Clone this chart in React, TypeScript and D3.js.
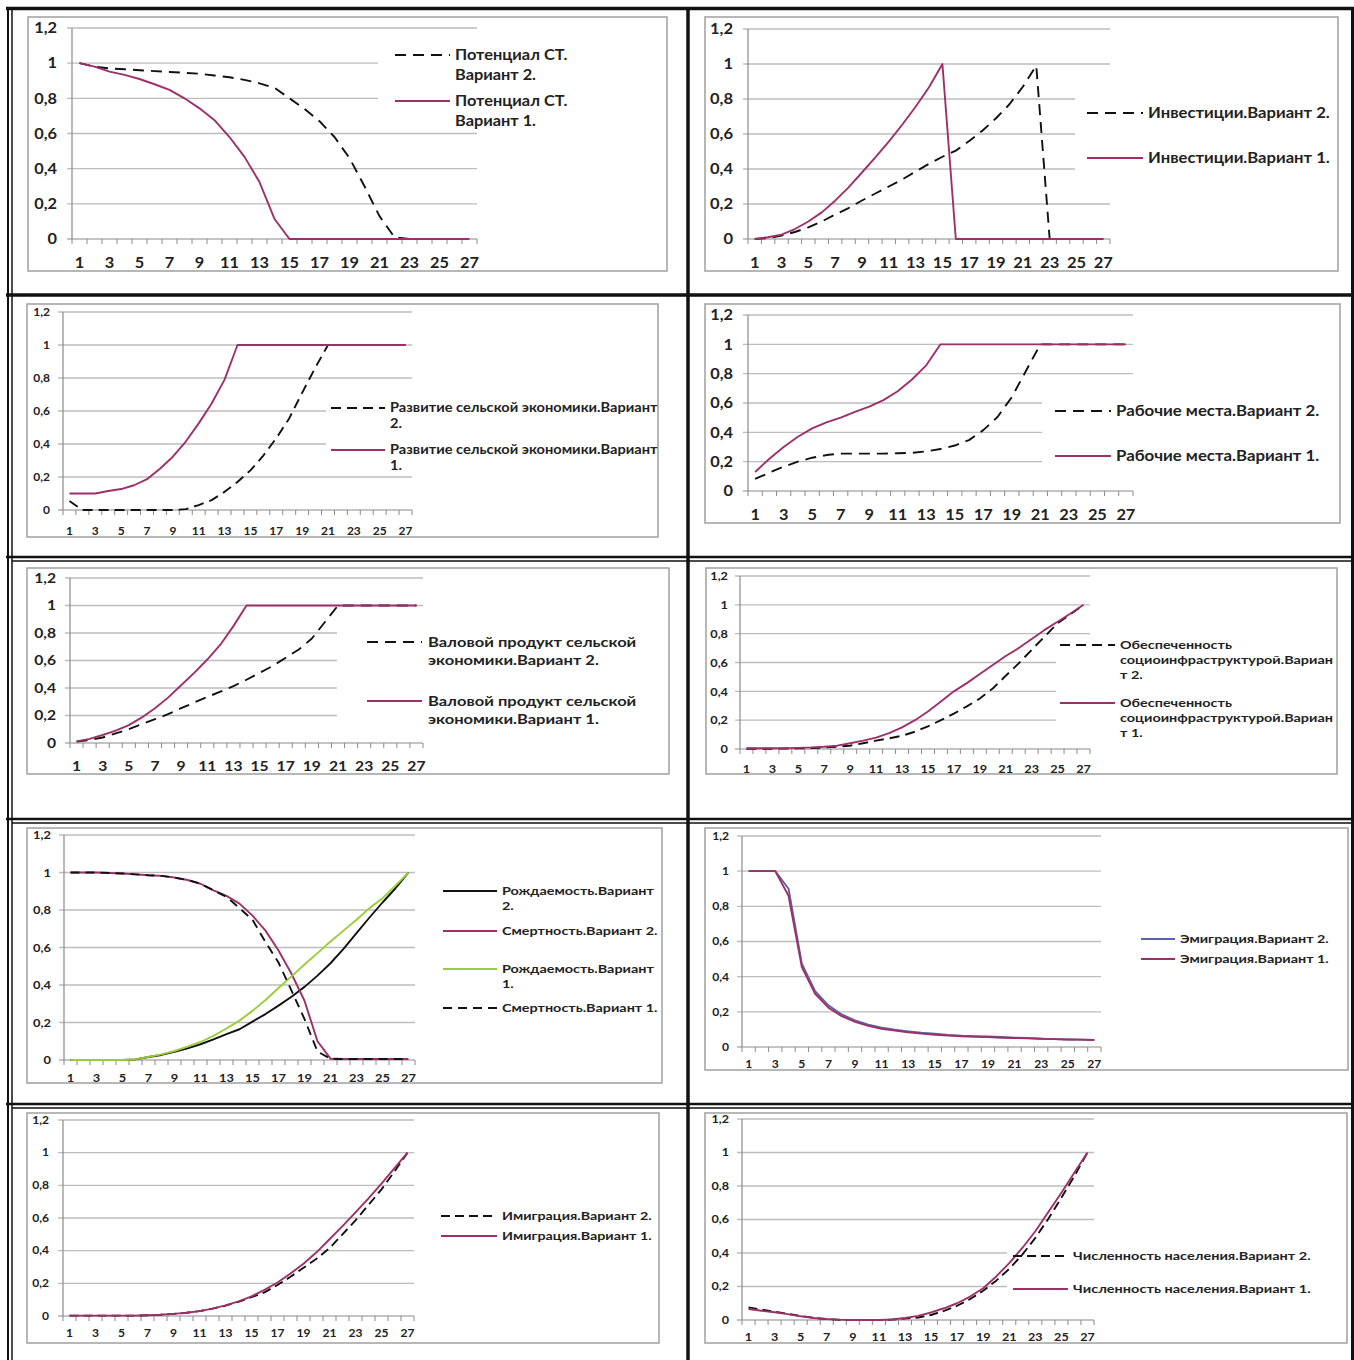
import * as d3 from "d3";

// Years (categories) 1..27 and the labelled ones on the x axis.
const CATS = [1, 2, 3, 4, 5, 6, 7, 8, 9, 10, 11, 12, 13, 14, 15, 16, 17, 18, 19, 20, 21, 22, 23, 24, 25, 26, 27];
const X_LABELS = [1, 3, 5, 7, 9, 11, 13, 15, 17, 19, 21, 23, 25, 27];
const Y_TICKS = [0, 0.2, 0.4, 0.6, 0.8, 1, 1.2];

// Потенциал СТ.
const POT_V2 = [1, 0.98, 0.97, 0.965, 0.96, 0.955, 0.95, 0.945, 0.94, 0.93, 0.92, 0.905, 0.885, 0.86, 0.8, 0.74, 0.67, 0.58, 0.46, 0.3, 0.13, 0.01, 0, 0, 0, 0, 0];
const POT_V1 = [1, 0.98, 0.952, 0.933, 0.91, 0.88, 0.848, 0.8, 0.743, 0.676, 0.58, 0.467, 0.324, 0.114, 0, 0, 0, 0, 0, 0, 0, 0, 0, 0, 0, 0, 0];
// Инвестиции
const INV_V2 = [0, 0.005, 0.02, 0.04, 0.067, 0.1, 0.14, 0.177, 0.22, 0.26, 0.3, 0.34, 0.385, 0.43, 0.47, 0.505, 0.56, 0.62, 0.69, 0.77, 0.87, 0.99, 0, 0, 0, 0, 0];
const INV_V1 = [0, 0.01, 0.025, 0.057, 0.1, 0.152, 0.219, 0.295, 0.38, 0.467, 0.556, 0.653, 0.756, 0.867, 1, 0, 0, 0, 0, 0, 0, 0, 0, 0, 0, 0, 0];
// Развитие сельской экономики
const RSE_V2 = [0.055, 0, 0, 0, 0, 0, 0, 0, 0, 0.005, 0.03, 0.06, 0.11, 0.17, 0.24, 0.33, 0.435, 0.555, 0.71, 0.86, 1, 1, 1, 1, 1, 1, 1];
const RSE_V1 = [0.1, 0.1, 0.1, 0.115, 0.127, 0.15, 0.187, 0.25, 0.323, 0.415, 0.525, 0.645, 0.79, 1, 1, 1, 1, 1, 1, 1, 1, 1, 1, 1, 1, 1, 1];
// Рабочие места
const JOB_V2 = [0.082, 0.125, 0.166, 0.2, 0.227, 0.245, 0.255, 0.255, 0.255, 0.255, 0.257, 0.26, 0.27, 0.286, 0.31, 0.347, 0.415, 0.505, 0.64, 0.82, 1, 1, 1, 1, 1, 1, 1];
const JOB_V1 = [0.13, 0.22, 0.3, 0.37, 0.427, 0.468, 0.5, 0.54, 0.575, 0.62, 0.68, 0.76, 0.857, 1, 1, 1, 1, 1, 1, 1, 1, 1, 1, 1, 1, 1, 1];
// Валовой продукт сельской экономики
const GDP_V2 = [0.01, 0.022, 0.04, 0.07, 0.1, 0.137, 0.173, 0.21, 0.253, 0.294, 0.335, 0.373, 0.414, 0.46, 0.51, 0.56, 0.62, 0.68, 0.76, 0.88, 1, 1, 1, 1, 1, 1, 1];
const GDP_V1 = [0.012, 0.03, 0.058, 0.09, 0.13, 0.186, 0.253, 0.33, 0.42, 0.51, 0.607, 0.715, 0.85, 1, 1, 1, 1, 1, 1, 1, 1, 1, 1, 1, 1, 1, 1];
// Обеспеченность социоинфраструктурой
const SOC_V2 = [0.002, 0.002, 0.002, 0.003, 0.004, 0.006, 0.01, 0.016, 0.023, 0.04, 0.058, 0.074, 0.092, 0.12, 0.157, 0.2, 0.245, 0.296, 0.35, 0.42, 0.508, 0.594, 0.688, 0.78, 0.873, 0.935, 1];
const SOC_V1 = [0.005, 0.005, 0.005, 0.006, 0.008, 0.011, 0.016, 0.023, 0.04, 0.058, 0.079, 0.11, 0.15, 0.2, 0.26, 0.33, 0.4, 0.457, 0.52, 0.583, 0.645, 0.7, 0.763, 0.826, 0.883, 0.94, 1];
// Рождаемость / Смертность
const BIRTH_V2 = [0, 0, 0, 0, 0, 0.003, 0.016, 0.027, 0.043, 0.062, 0.084, 0.11, 0.138, 0.164, 0.205, 0.245, 0.29, 0.337, 0.39, 0.45, 0.516, 0.593, 0.677, 0.76, 0.84, 0.916, 1];
const DEATH_V2 = [1, 1, 1, 0.997, 0.995, 0.99, 0.985, 0.982, 0.973, 0.96, 0.94, 0.905, 0.875, 0.834, 0.77, 0.69, 0.584, 0.46, 0.316, 0.1, 0.007, 0.005, 0.005, 0.005, 0.005, 0.005, 0.005];
const BIRTH_V1 = [0, 0, 0, 0, 0, 0.003, 0.017, 0.03, 0.048, 0.071, 0.096, 0.129, 0.168, 0.21, 0.262, 0.32, 0.384, 0.446, 0.509, 0.57, 0.632, 0.69, 0.748, 0.81, 0.863, 0.93, 1];
const DEATH_V1 = [1, 1, 1, 0.997, 0.995, 0.99, 0.985, 0.982, 0.973, 0.96, 0.94, 0.905, 0.87, 0.81, 0.748, 0.629, 0.52, 0.37, 0.218, 0.045, 0.007, 0.005, 0.005, 0.005, 0.005, 0.005, 0.005];
// Эмиграция
const EMI_V2 = [1, 1, 1, 0.9, 0.474, 0.318, 0.237, 0.185, 0.151, 0.127, 0.11, 0.098, 0.089, 0.081, 0.076, 0.068, 0.064, 0.062, 0.06, 0.057, 0.053, 0.051, 0.047, 0.045, 0.043, 0.042, 0.04];
const EMI_V1 = [1, 1, 1, 0.86, 0.455, 0.303, 0.224, 0.175, 0.143, 0.12, 0.104, 0.093, 0.084, 0.076, 0.07, 0.065, 0.061, 0.058, 0.056, 0.053, 0.051, 0.049, 0.047, 0.045, 0.043, 0.042, 0.04];
// Имиграция
const IMM_V2 = [0.002, 0.002, 0.002, 0.002, 0.002, 0.002, 0.005, 0.008, 0.013, 0.02, 0.03, 0.045, 0.063, 0.087, 0.115, 0.145, 0.19, 0.24, 0.295, 0.35, 0.415, 0.5, 0.585, 0.68, 0.775, 0.885, 1];
const IMM_V1 = [0.002, 0.002, 0.002, 0.002, 0.002, 0.002, 0.005, 0.008, 0.013, 0.02, 0.03, 0.045, 0.065, 0.09, 0.12, 0.16, 0.205, 0.26, 0.32, 0.39, 0.47, 0.55, 0.635, 0.72, 0.81, 0.905, 1];
// Численность населения
const POP_V2 = [0.075, 0.062, 0.05, 0.037, 0.024, 0.013, 0.005, 0.001, 0, 0, 0, 0.002, 0.008, 0.015, 0.03, 0.055, 0.085, 0.125, 0.175, 0.235, 0.305, 0.39, 0.49, 0.605, 0.73, 0.86, 1];
const POP_V1 = [0.066, 0.055, 0.046, 0.035, 0.022, 0.012, 0.006, 0.002, 0, 0, 0, 0.003, 0.012, 0.025, 0.045, 0.07, 0.1, 0.14, 0.19, 0.26, 0.34, 0.43, 0.53, 0.645, 0.76, 0.88, 1];

const FONT = "Lato, 'Open Sans', sans-serif";
const INK = "#222";
const BLACK = "#111";
const PURPLE = "#9E3068";
const GREEN = "#9ACD3A";
const BLUE = "#5A62A8";

type Series = { values: number[]; color: string; dashed?: boolean; label: string[] };
type PanelSpec = {
  box: [number, number, number, number];
  axis: [number, number];
  y0: number;
  y12: number;
  xLabelY: number;
  yLabelX: number;
  fs: number;
  sx: number;
  dash: string;
  legend: {
    x0: number;
    x1: number;
    tx: number;
    ys: number[];
    lh: number;
    fs: number;
    sx: number;
    mask?: [number, number, number, number];
  };
  series: Series[];
};

const PANELS: PanelSpec[] = [
  {
    box: [28, 17, 667, 271], axis: [72, 477], y0: 239, y12: 28, xLabelY: 263, yLabelX: 57, fs: 15, sx: 1.09, dash: "11,7",
    legend: { x0: 395, x1: 450, tx: 455, ys: [55, 101], lh: 20, fs: 15, sx: 1.09, mask: [378, 42, 220, 86] },
    series: [
      { values: POT_V2, color: BLACK, dashed: true, label: ["Потенциал СТ.", "Вариант 2."] },
      { values: POT_V1, color: PURPLE, label: ["Потенциал СТ.", "Вариант 1."] },
    ],
  },
  {
    box: [705, 17, 1338, 271], axis: [748, 1110], y0: 239, y12: 29, xLabelY: 263, yLabelX: 733, fs: 15, sx: 1.1, dash: "11,7",
    legend: { x0: 1087, x1: 1143, tx: 1148, ys: [113, 158], lh: 20, fs: 15, sx: 1.11, mask: [1075, 86, 260, 90] },
    series: [
      { values: INV_V2, color: BLACK, dashed: true, label: ["Инвестиции.Вариант 2."] },
      { values: INV_V1, color: PURPLE, label: ["Инвестиции.Вариант 1."] },
    ],
  },
  {
    box: [27, 304, 658, 537], axis: [63, 412], y0: 510, y12: 312, xLabelY: 531, yLabelX: 50, fs: 12, sx: 1.0, dash: "10,6",
    legend: { x0: 331, x1: 385, tx: 390, ys: [408, 450], lh: 16, fs: 12.5, sx: 1.17, mask: [326, 396, 280, 78] },
    series: [
      { values: RSE_V2, color: BLACK, dashed: true, label: ["Развитие сельской экономики.Вариант", "2."] },
      { values: RSE_V1, color: PURPLE, label: ["Развитие сельской экономики.Вариант", "1."] },
    ],
  },
  {
    box: [705, 304, 1340, 523], axis: [748, 1133], y0: 491, y12: 315, xLabelY: 515, yLabelX: 733, fs: 15, sx: 1.09, dash: "11,7",
    legend: { x0: 1055, x1: 1111, tx: 1116, ys: [411, 456], lh: 20, fs: 15, sx: 1.12, mask: [1042, 396, 280, 72] },
    series: [
      { values: JOB_V2, color: BLACK, dashed: true, label: ["Рабочие места.Вариант 2."] },
      { values: JOB_V1, color: PURPLE, label: ["Рабочие места.Вариант 1."] },
    ],
  },
  {
    box: [27, 568, 669, 774], axis: [70, 423], y0: 743, y12: 578, xLabelY: 766, yLabelX: 56, fs: 14, sx: 1.12, dash: "11,7",
    legend: { x0: 367, x1: 422, tx: 428, ys: [642, 701], lh: 18, fs: 14, sx: 1.18, mask: [337, 620, 300, 110] },
    series: [
      { values: GDP_V2, color: BLACK, dashed: true, label: ["Валовой продукт сельской", "экономики.Вариант 2."] },
      { values: GDP_V1, color: PURPLE, label: ["Валовой продукт сельской", "экономики.Вариант 1."] },
    ],
  },
  {
    box: [706, 568, 1337, 774], axis: [740, 1090], y0: 749, y12: 576, xLabelY: 769, yLabelX: 728, fs: 12, sx: 1.06, dash: "10,6",
    legend: { x0: 1060, x1: 1115, tx: 1120, ys: [645, 703], lh: 15, fs: 12, sx: 1.2, mask: [1056, 637, 280, 100] },
    series: [
      { values: SOC_V2, color: BLACK, dashed: true, label: ["Обеспеченность", "социоинфраструктурой.Вариан", "т 2."] },
      { values: SOC_V1, color: PURPLE, label: ["Обеспеченность", "социоинфраструктурой.Вариан", "т 1."] },
    ],
  },
  {
    box: [27, 828, 662, 1083], axis: [64, 415], y0: 1060, y12: 835, xLabelY: 1078, yLabelX: 51, fs: 11.5, sx: 1.12, dash: "9,6",
    legend: { x0: 443, x1: 497, tx: 502, ys: [891, 931, 969, 1008], lh: 15, fs: 12, sx: 1.2 },
    series: [
      { values: BIRTH_V2, color: BLACK, label: ["Рождаемость.Вариант", "2."] },
      { values: DEATH_V2, color: PURPLE, label: ["Смертность.Вариант 2."] },
      { values: BIRTH_V1, color: GREEN, label: ["Рождаемость.Вариант", "1."] },
      { values: DEATH_V1, color: BLACK, dashed: true, label: ["Смертность.Вариант 1."] },
    ],
  },
  {
    box: [705, 828, 1348, 1070], axis: [742, 1101], y0: 1047, y12: 836, xLabelY: 1064, yLabelX: 729, fs: 11, sx: 1.1, dash: "9,6",
    legend: { x0: 1141, x1: 1175, tx: 1180, ys: [939, 959], lh: 15, fs: 11.5, sx: 1.25 },
    series: [
      { values: EMI_V2, color: BLUE, label: ["Эмиграция.Вариант 2."] },
      { values: EMI_V1, color: PURPLE, label: ["Эмиграция.Вариант 1."] },
    ],
  },
  {
    box: [27, 1113, 659, 1343], axis: [63, 414], y0: 1316, y12: 1120, xLabelY: 1333, yLabelX: 49, fs: 10.5, sx: 1.15, dash: "9,5",
    legend: { x0: 441, x1: 497, tx: 502, ys: [1216, 1236], lh: 15, fs: 11, sx: 1.3 },
    series: [
      { values: IMM_V2, color: BLACK, dashed: true, label: ["Имиграция.Вариант 2."] },
      { values: IMM_V1, color: PURPLE, label: ["Имиграция.Вариант 1."] },
    ],
  },
  {
    box: [705, 1113, 1347, 1343], axis: [742, 1094], y0: 1320, y12: 1119, xLabelY: 1337, yLabelX: 729, fs: 10.5, sx: 1.2, dash: "9,5",
    legend: { x0: 1013, x1: 1068, tx: 1073, ys: [1256, 1289], lh: 15, fs: 11, sx: 1.32, mask: [1007, 1240, 300, 62] },
    series: [
      { values: POP_V2, color: BLACK, dashed: true, label: ["Численность населения.Вариант 2."] },
      { values: POP_V1, color: PURPLE, label: ["Численность населения.Вариант 1."] },
    ],
  },
];

const fmt = (d: number) => String(d).replace(".", ",");

function Label({ x, y, sx, fs, anchor = "start", children }: { x: number; y: number; sx: number; fs: number; anchor?: string; children: string }) {
  return (
    <text
      transform={`translate(${x},${y}) scale(${sx},1)`}
      dy="0.35em"
      textAnchor={anchor}
      fontSize={fs}
      fontWeight={700}
      fill={INK}
    >
      {children}
    </text>
  );
}

function Panel({ p }: { p: PanelSpec }) {
  const x = d3.scaleBand<number>().domain(CATS).range(p.axis).paddingInner(0).paddingOuter(0);
  const y = d3.scaleLinear().domain([0, 1.2]).range([p.y0, p.y12]);
  const cx = (c: number) => (x(c) ?? 0) + x.bandwidth() / 2;
  const line = d3
    .line<number>()
    .x((_, i) => cx(CATS[i]))
    .y((d) => y(d));
  const [bx0, by0, bx1, by1] = p.box;
  const [xl, xr] = p.axis;
  const tickXs = [...CATS.map((c) => x(c) ?? 0), xr];
  const lg = p.legend;

  return (
    <g fontFamily={FONT}>
      <rect x={bx0} y={by0} width={bx1 - bx0} height={by1 - by0} fill="#fff" stroke="#A6A6A6" strokeWidth={1.6} />
      {Y_TICKS.filter((t) => t > 0).map((t) => (
        <line key={t} x1={xl - 5} x2={xr} y1={y(t)} y2={y(t)} stroke="#BDBDBD" strokeWidth={1.3} />
      ))}
      {/* the legend's white fill hides the gridlines behind it */}
      {lg.mask && <rect x={lg.mask[0]} y={lg.mask[1]} width={lg.mask[2]} height={lg.mask[3]} fill="#fff" />}
      <line x1={xl} x2={xl} y1={p.y12} y2={p.y0} stroke="#8A8A8A" strokeWidth={1.2} />
      <line x1={xl - 5} x2={xr} y1={p.y0} y2={p.y0} stroke="#8A8A8A" strokeWidth={1.2} />
      {tickXs.map((tx, i) => (
        <line key={i} x1={tx} x2={tx} y1={p.y0} y2={p.y0 + 5} stroke="#8A8A8A" strokeWidth={1} />
      ))}
      {Y_TICKS.map((t) => (
        <Label key={t} x={p.yLabelX} y={y(t)} sx={p.sx} fs={p.fs} anchor="end">
          {fmt(t)}
        </Label>
      ))}
      {X_LABELS.map((c) => (
        <Label key={c} x={cx(c)} y={p.xLabelY} sx={p.sx} fs={p.fs} anchor="middle">
          {String(c)}
        </Label>
      ))}
      {p.series.map((s, i) => (
        <path
          key={i}
          d={line(s.values) ?? ""}
          fill="none"
          stroke={s.color}
          strokeWidth={1.9}
          strokeDasharray={s.dashed ? p.dash : undefined}
          strokeLinejoin="round"
        />
      ))}
      {p.series.map((s, i) => {
        const ly = lg.ys[i];
        return (
          <g key={i}>
            <line
              x1={lg.x0}
              x2={lg.x1}
              y1={ly}
              y2={ly}
              stroke={s.color}
              strokeWidth={1.9}
              strokeDasharray={s.dashed ? p.dash : undefined}
            />
            {s.label.map((t, j) => (
              <Label key={j} x={lg.tx} y={ly + j * lg.lh} sx={lg.sx} fs={lg.fs}>
                {t}
              </Label>
            ))}
          </g>
        );
      })}
    </g>
  );
}

export default function App() {
  const W = 1354;
  const H = 1360;
  return (
    <svg width={W} height={H} style={{ position: "absolute", left: 0, top: 0, background: "#fff" }}>
      <rect width={W} height={H} fill="#fff" />
      {PANELS.map((p, i) => (
        <Panel key={i} p={p} />
      ))}
      {/* table frame of the document page */}
      <g stroke="#111" fill="none">
        <line x1={6} x2={W} y1={8.5} y2={8.5} strokeWidth={3.5} />
        <line x1={8} x2={8} y1={7} y2={H} strokeWidth={2} />
        <line x1={12} x2={12} y1={10} y2={H} strokeWidth={1.5} />
        <line x1={688} x2={688} y1={7} y2={H} strokeWidth={3.5} />
        <line x1={1352.5} x2={1352.5} y1={7} y2={H} strokeWidth={3} />
        <line x1={6} x2={W} y1={295} y2={295} strokeWidth={3.5} />
        <line x1={6} x2={W} y1={557} y2={557} strokeWidth={2.5} />
        <line x1={12} x2={W} y1={561} y2={561} strokeWidth={1.5} />
        <line x1={6} x2={W} y1={819} y2={819} strokeWidth={2.5} />
        <line x1={12} x2={W} y1={823} y2={823} strokeWidth={1.5} />
        <line x1={6} x2={W} y1={1104} y2={1104} strokeWidth={2.5} />
        <line x1={12} x2={W} y1={1108} y2={1108} strokeWidth={1.5} />
      </g>
    </svg>
  );
}
